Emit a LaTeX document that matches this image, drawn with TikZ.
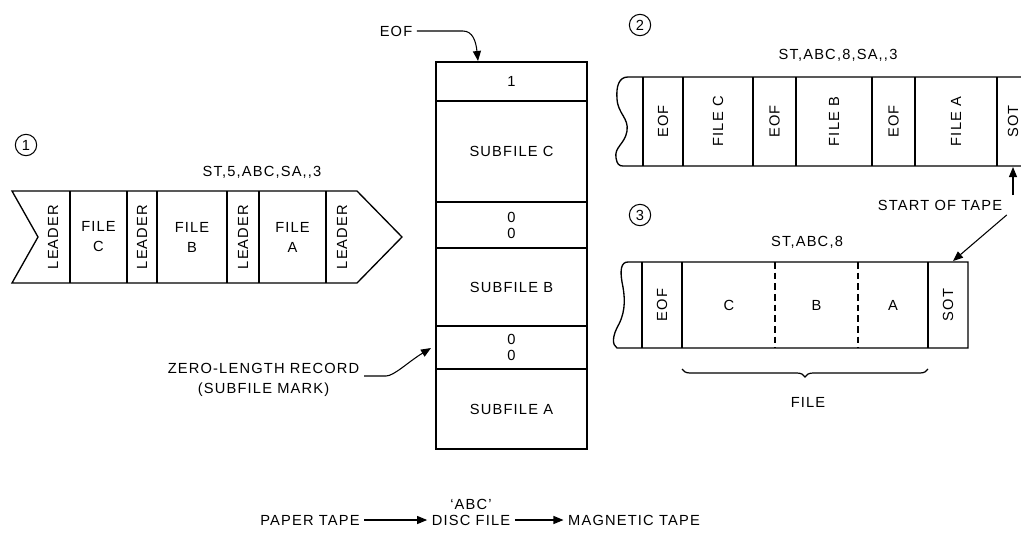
\documentclass[tikz,border=0pt]{standalone}
\usepackage{fontspec}
\setmainfont{Liberation Sans}[LetterSpace=8]
\usetikzlibrary{arrows.meta,positioning,decorations.pathreplacing}

\begin{document}
\begin{tikzpicture}[
  x=0.75pt, y=-0.75pt,
  font=\fontsize{11}{15}\selectfont,
  tape/.style={line width=1pt},
  cell/.style={draw, line width=1pt, minimum width=113.25pt, inner sep=0pt, align=center},
  pair/.style={font=\fontsize{11}{12}\selectfont},
  vlbl/.style={rotate=90, inner sep=1pt},
  num/.style={draw, circle, line width=0.8pt, minimum size=16pt, inner sep=0pt},
  arr/.style={-{Triangle[length=7.5pt,width=6pt]}, line width=0.8pt},
  fdiv/.style={line width=1pt, dash pattern=on 5pt off 3pt}
]
\useasboundingbox (0,0) rectangle (1021,536);
\clip (0,0) rectangle (1021,536);

% (1) paper tape
\node[num] (n1) at (26,145) {1};
\node (cmd1) at (262,172) {ST,5,ABC,SA,{},3};
\draw[tape] (12,191) -- (357,191) -- (402,237) -- (357,283) -- (12,283) -- (38,237) -- cycle;
\foreach \x in {70,127,157,227,259,326}
  \draw[tape] (\x,191) -- (\x,283);
\foreach \x/\n in {53/l1,142/l2,243/l3,342/l4}
  \node[vlbl] (\n) at (\x,237) {LEADER};
\foreach \x/\n/\t in {98.5/fc/C,192/fb/B,292.5/fa/A}
  \node[align=center] (\n) at (\x,237) {FILE\\\t};

% disc file
\node[cell, minimum height=29.25pt] (d1) at (511.5,81.5) {1};
\node[cell, minimum height=75.75pt] (dC) at (511.5,151.5) {SUBFILE C};
\node[cell, pair, minimum height=34.5pt] (dm2) at (511.5,225) {0\\0};
\node[cell, minimum height=58.5pt] (dB) at (511.5,287) {SUBFILE B};
\node[cell, pair, minimum height=32.25pt] (dm1) at (511.5,347.5) {0\\0};
\node[cell, minimum height=60pt] (dA) at (511.5,409) {SUBFILE A};

\node (eof) at (396,31) {EOF};
\coordinate (eofin) at (478,61);
\draw[arr] (eof.east) -- ++(46,0) .. controls +(10,0) and (476,42) .. (eofin);

\node[align=center, anchor=east] (zlr) at (364,380) {ZERO-LENGTH RECORD\\(SUBFILE MARK)};
\coordinate (zlrin) at (431,348);
\draw[arr] (zlr.east) ++(0,-4) -- ++(22,0) .. controls +(8,0) and (408,362) .. (zlrin);

% (2) magnetic tape, ST,ABC,8,SA,,3
\node[num] (n2) at (640,25) {2};
\node (cmd2) at (838,55) {ST,ABC,8,SA,{},3};
\draw[tape] (1030,77) -- (628,77) .. controls (619,77) and (616,86) .. (617,99)
  .. controls (618,114) and (629,118) .. (627,131)
  .. controls (625,144) and (614,147) .. (616,158)
  .. controls (617,164) and (619,166) .. (623,166) -- (1030,166);
\foreach \x in {643,683,753,796,872,915,997}
  \draw[tape] (\x,77) -- (\x,166);
\foreach \x/\n/\t in {663/e1/EOF,718/t2c/FILE C,774.5/e2/EOF,834/t2b/FILE B,893.5/e3/EOF,956/t2a/FILE A,1013/sot2/SOT}
  \node[vlbl] (\n) at (\x,121.5) {\t};

% (3) magnetic tape, ST,ABC,8
\node[num] (n3) at (640,215) {3};
\node (cmd3) at (807,242) {ST,ABC,8};
\draw[tape] (968,262) -- (628,262) .. controls (621,262) and (620,270) .. (622,282)
  .. controls (625,296) and (626,310) .. (619,324)
  .. controls (612,336) and (612,345) .. (617,348) -- (968,348) -- cycle;
\foreach \x in {642,682,928}
  \draw[tape] (\x,262) -- (\x,348);
\foreach \x in {775,858}
  \draw[fdiv] (\x,262) -- (\x,348);
\node[vlbl] (e4) at (662,305) {EOF};
\node (t3c) at (729,305) {C};
\node (t3b) at (816.5,305) {B};
\node (t3a) at (893,305) {A};
\node[vlbl] (sot3) at (948,305) {SOT};
\draw[line width=0.9pt, decorate, decoration={brace, mirror, amplitude=6pt}] (682,369) -- (928,369);
\node (file) at (808,402) {FILE};

\node (sot) at (940,205) {START OF TAPE};
\coordinate (sotup) at (1013,167);
\coordinate (sotdn) at (953,261);
\draw[arr] (sotup |- sot.north) -- (sotup);
\draw[arr] (sot.south east) -- (sotdn);

% data flow
\node (ptape) at (310,520) {PAPER TAPE};
\node (disc) at (471,520) {DISC FILE};
\node[above=-3pt of disc] (abc) {`ABC'};
\node (mtape) at (634,520) {MAGNETIC TAPE};
\draw[arr] (ptape) -- (disc);
\draw[arr] (disc) -- (mtape);

\end{tikzpicture}
\end{document}
